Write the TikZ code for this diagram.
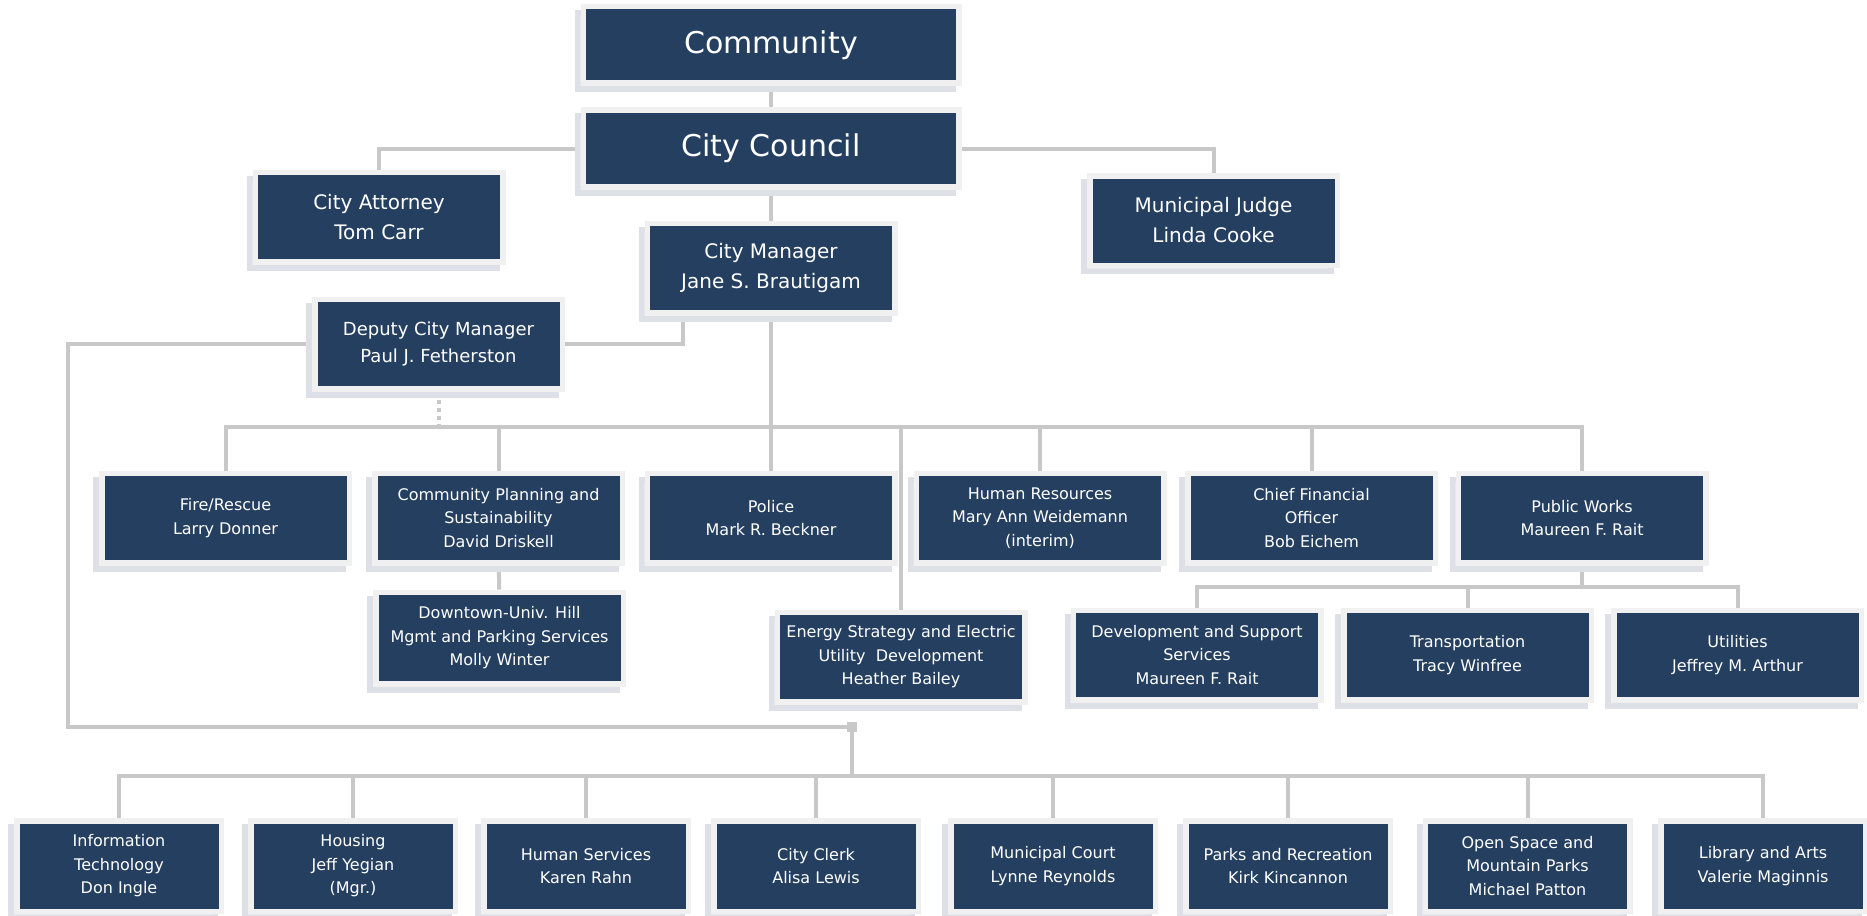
\documentclass[tikz,border=0pt]{standalone}
\usepackage{fontspec}
\setmainfont{DejaVu Sans}
\usetikzlibrary{shadows,backgrounds}
\definecolor{navy}{HTML}{243F60}
\definecolor{framec}{HTML}{F0F0F0}
\definecolor{shadc}{HTML}{E6E8EC}
\definecolor{shadl}{HTML}{DDE0E6}
\definecolor{wirec}{HTML}{C8C8C8}
\tikzset{
  unit/.style={rectangle, fill=navy, draw=framec, line width=5.5pt, text=white, align=center, inner sep=0pt,
    general shadow={shadow xshift=-6pt, shadow yshift=-6pt, fill=shadc, draw=shadl, line width=5.5pt}},
  bigbox/.style={unit, minimum width=375.5pt, minimum height=76.5pt, font=\fontsize{30}{36}\selectfont},
  midbox/.style={unit, minimum width=247.5pt, minimum height=89.5pt, font=\fontsize{20}{30}\selectfont},
  depbox/.style={unit, minimum width=247.5pt, minimum height=89.5pt, font=\fontsize{18}{26.7}\selectfont},
  deptbox/.style={unit, minimum width=247.5pt, minimum height=89.5pt, font=\fontsize{16}{23.5}\selectfont},
  lowbox/.style={unit, minimum width=204.5pt, minimum height=90.5pt, font=\fontsize{16}{23.5}\selectfont},
  wire/.style={draw=wirec, line width=4pt},
}
\begin{document}
\begin{tikzpicture}[x=1pt, y=-1pt]
\useasboundingbox (0,0) rectangle (1867,915);
% top
\node[bigbox] (comm) at (771,45) {Community};
\node[bigbox] (council) at (771,148.5) {City Council};
\node[midbox] (att) at (379,217) {City Attorney\\Tom Carr};
\node[midbox] (judge) at (1213.5,220.5) {Municipal Judge\\Linda Cooke};
\node[midbox] (mgr) at (771,268) {City Manager\\Jane S. Brautigam};
\node[depbox] (dep) at (438.5,344) {Deputy City Manager\\Paul J. Fetherston};
% row 1
\node[deptbox] (fire) at (225.5,518) {Fire/Rescue\\Larry Donner};
\node[deptbox] (cps) at (498.5,518) {Community Planning and\\Sustainability\\David Driskell};
\node[deptbox] (police) at (771,518) {Police\\Mark R. Beckner};
\node[deptbox] (hr) at (1040,518) {Human Resources\\Mary Ann Weidemann\\(interim)};
\node[deptbox] (cfo) at (1311.5,518) {Chief Financial\\Officer\\Bob Eichem};
\node[deptbox] (pw) at (1582,518) {Public Works\\Maureen F. Rait};
% row 2
\node[deptbox, minimum height=91.5pt] (down) at (499.5,638) {Downtown-Univ. Hill\\Mgmt and Parking Services\\Molly Winter};
\node[deptbox] (energy) at (901,657) {Energy Strategy and Electric\\Utility\ \ Development\\Heather Bailey};
\node[deptbox] (dev) at (1197,655) {Development and Support\\Services\\Maureen F. Rait};
\node[deptbox] (trans) at (1467.5,655) {Transportation\\Tracy Winfree};
\node[deptbox] (util) at (1737.5,655) {Utilities\\Jeffrey M. Arthur};
% bottom row
\node[lowbox] (it) at (119,866) {Information\\Technology\\Don Ingle};
\node[lowbox] (hous) at (353,866) {Housing\\Jeff Yegian\\(Mgr.)};
\node[lowbox] (hs) at (586,866) {Human Services\\Karen Rahn};
\node[lowbox] (clerk) at (816,866) {City Clerk\\Alisa Lewis};
\node[lowbox] (court) at (1053,866) {Municipal Court\\Lynne Reynolds};
\node[lowbox] (parks) at (1288,866) {Parks and Recreation\\Kirk Kincannon};
\node[lowbox] (osmp) at (1527.5,866) {Open Space and\\Mountain Parks\\Michael Patton};
\node[lowbox] (lib) at (1763,866) {Library and Arts\\Valerie Maginnis};
% junctions
\coordinate (b1) at (771,427);
\coordinate (b2) at (1582,587);
\coordinate (mgrL) at (683,310);
\coordinate (c1) at (68,727);
\coordinate (b3) at (852,776);
\node[fill=wirec, minimum size=10pt, inner sep=0pt] (sq) at (852,727) {};
\begin{scope}[on background layer]
\draw[wire] (comm) -- (council);
\draw[wire] (council.west) -| (att.north);
\draw[wire] (council.east) -| (judge.north);
\draw[wire] (council) -- (mgr);
\draw[wire] (mgr.south) -- (b1);
\draw[wire] (dep.east) -| (mgrL);
\draw[wire, dash pattern=on 4pt off 4pt] (dep.south) -- (dep.south |- b1);
\foreach \n in {fire,cps,police,hr,cfo,pw,energy} \draw[wire] (b1) -| (\n.north);
\draw[wire] (cps) -- (down);
\draw[wire] (pw.south) -- (b2);
\foreach \n in {dev,trans,util} \draw[wire] (b2) -| (\n.north);
\draw[wire] (dep.west) -| (c1) -- (sq.center) -- (b3);
\foreach \n in {it,hous,hs,clerk,court,parks,osmp,lib} \draw[wire] (b3) -| (\n.north);
\end{scope}
\end{tikzpicture}
\end{document}
